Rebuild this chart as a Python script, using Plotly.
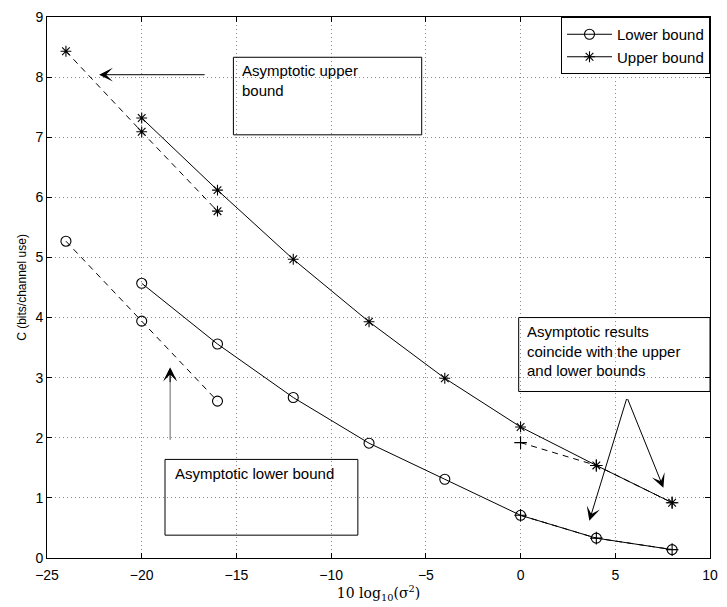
import plotly.graph_objects as go

# SNR grid (10 log10 sigma^2) and capacity bounds in bits/channel use
snr_db = [-20, -16, -12, -8, -4, 0, 4, 8]
lower_bound = [4.57, 3.56, 2.67, 1.91, 1.31, 0.71, 0.33, 0.14]
upper_bound = [7.32, 6.12, 4.97, 3.93, 2.99, 2.18, 1.54, 0.92]

# Low-noise asymptotic expansions
snr_low = [-24, -20, -16]
asym_upper_low = [8.43, 7.09, 5.77]
asym_lower_low = [5.27, 3.94, 2.61]

# High-noise asymptotic expansions
snr_high = [0, 4, 8]
asym_upper_high = [1.92, 1.54, 0.92]
asym_lower_high = [0.71, 0.33, 0.14]

x_ticks = [-25, -20, -15, -10, -5, 0, 5, 10]
y_ticks = [0, 1, 2, 3, 4, 5, 6, 7, 8, 9]

FONT = "Liberation Sans, Arial, Helvetica, sans-serif"
DASH = "6px,5px"

fig = go.Figure()


def add_series(x, y, symbol, dash, name=None, size=9):
    fig.add_trace(go.Scatter(
        x=x, y=y, mode="lines+markers", name=name,
        showlegend=name is not None,
        line=dict(color="black", width=1, dash=dash),
        marker=dict(symbol=symbol, size=size, color="black",
                    line=dict(color="black", width=1.1)),
    ))


add_series(snr_low, asym_upper_low, "asterisk-open", DASH)
add_series(snr_low, asym_lower_low, "circle-open", DASH, size=10)
add_series(snr_high, asym_upper_high, "cross-thin-open", DASH)
add_series(snr_high, asym_lower_high, "cross-thin-open", DASH)
add_series(snr_db, lower_bound, "circle-open", "solid", name="Lower bound", size=10)
add_series(snr_db, upper_bound, "asterisk-open", "solid", name="Upper bound")

# Text boxes (outline only, grid stays visible through them)
boxes = [
    (-15.16, 7.04, -5.22, 8.33),
    (-18.77, 0.38, -8.59, 1.64),
    (-0.1, 2.77, 10.0, 4.0),
]
for x0, y0, x1, y1 in boxes:
    fig.add_shape(type="rect", xref="x", yref="y", x0=x0, y0=y0, x1=x1, y1=y1,
                  line=dict(color="black", width=1), fillcolor="rgba(0,0,0,0)")

labels = [
    (-14.8, 8.28, "Asymptotic upper<br>bound"),
    (-18.35, 1.58, "Asymptotic lower bound"),
    (0.25, 3.95, "Asymptotic results<br>coincide with the upper<br>and lower bounds"),
]
annotations = []
for x, y, t in labels:
    annotations.append(dict(x=x, y=y, xref="x", yref="y", text=t, showarrow=False,
                            xanchor="left", yanchor="top", align="left",
                            font=dict(family=FONT, size=15, color="black")))

# Arrows: (tip x, tip y, tail x, tail y, colour)
arrows = [
    (-22.25, 8.04, -16.6, 8.04, "black"),
    (-18.5, 3.17, -18.5, 1.94, "#666666"),
    (-18.5, 3.17, -18.5, 2.9, "black"),
    (3.63, 0.62, 5.62, 2.67, "black"),
    (7.54, 1.17, 5.62, 2.67, "black"),
]
for tx, ty, sx, sy, c in arrows:
    annotations.append(dict(x=tx, y=ty, ax=sx, ay=sy, xref="x", yref="y",
                            axref="x", ayref="y", text="", showarrow=True,
                            arrowhead=3, arrowsize=2.3, arrowwidth=1,
                            arrowcolor=c, standoff=0))

axis_common = dict(
    showline=True, linecolor="black", linewidth=1, mirror="ticks",
    ticks="inside", ticklen=5, tickcolor="black", tickwidth=1,
    showgrid=True, gridcolor="#8a8a8a", gridwidth=1, griddash="1px,3px",
    zeroline=False, tickfont=dict(family=FONT, size=14, color="black"),
)

fig.update_layout(
    width=727, height=607,
    margin=dict(l=47, r=9, t=11, b=49),
    paper_bgcolor="white", plot_bgcolor="white",
    font=dict(family=FONT, color="black"),
    xaxis=dict(range=[-25, 10], tickvals=x_ticks,
               ticktext=[f"\u2212{abs(v)}" if v < 0 else str(v) for v in x_ticks],
               title=dict(text="10 log<sub>10</sub>(\u03c3<sup>2</sup>)",
                          font=dict(family="DejaVu Serif, serif", size=14),
                          standoff=4),
               ticklabelstandoff=4,
               **axis_common),
    yaxis=dict(range=[0, 9], tickvals=y_ticks,
               title=dict(text="C (bits/channel use)",
                          font=dict(family=FONT, size=12), standoff=6),
               **axis_common),
    legend=dict(x=1.0, y=1.0, xanchor="right", yanchor="top",
                bgcolor="white", bordercolor="black", borderwidth=1,
                font=dict(family=FONT, size=15, color="black"),
                tracegroupgap=0, itemwidth=45),
    annotations=annotations,
    showlegend=True,
)

fig.write_html("out.html")
